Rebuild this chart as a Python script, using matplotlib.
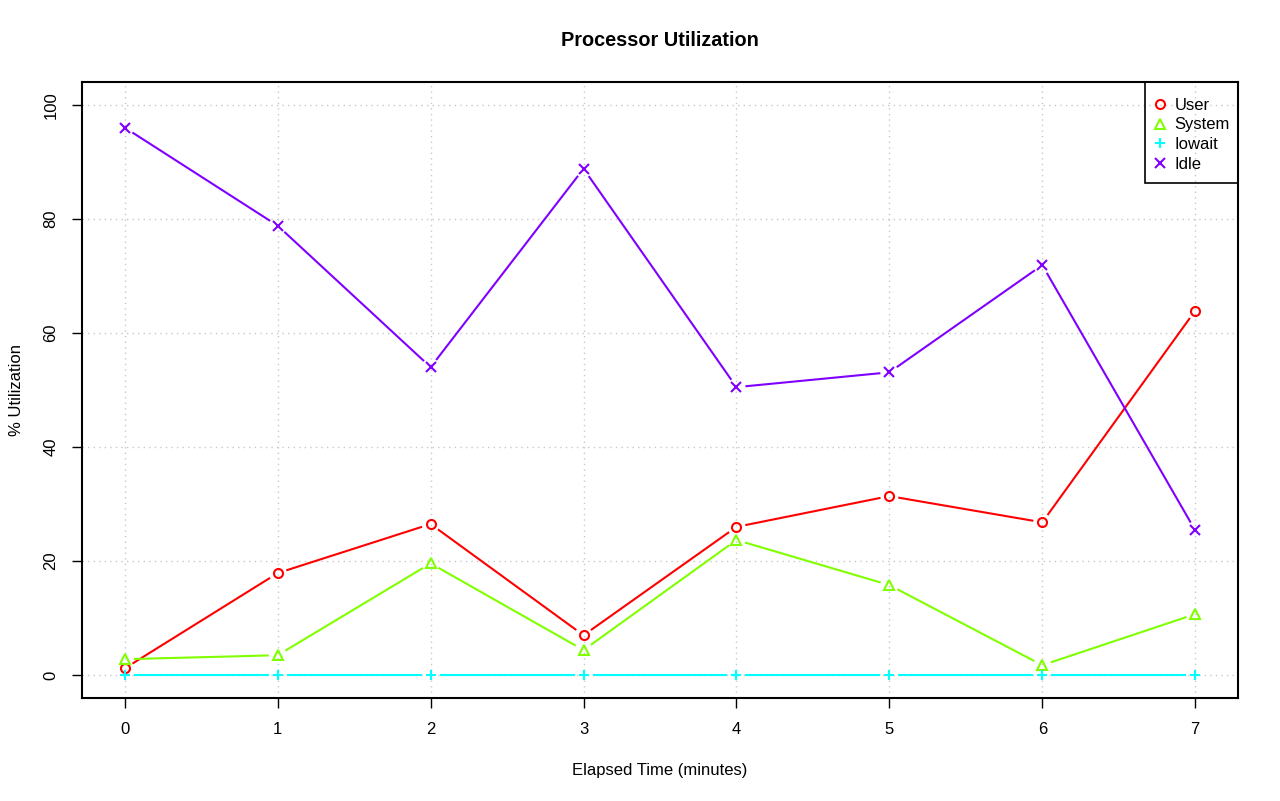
import numpy as np
import matplotlib
matplotlib.use("Agg")
import matplotlib.pyplot as plt
from matplotlib.patches import Rectangle

plt.rcParams['font.family'] = ['Liberation Sans', 'DejaVu Sans']

minutes = [0, 1, 2, 3, 4, 5, 6, 7]
user = [1.2, 17.9, 26.5, 7.0, 26.0, 31.4, 26.8, 63.9]
system = [2.8, 3.5, 19.6, 4.4, 23.7, 15.8, 1.75, 10.7]
iowait = [0, 0, 0, 0, 0, 0, 0, 0]
idle = [96.0, 78.8, 54.0, 88.8, 50.5, 53.1, 71.9, 25.4]
series_names = ["User", "System", "Iowait", "Idle"]
series_colors = ["#FF0000", "#80FF00", "#00FFFF", "#8000FF"]
series_markers = ["o", "^", "+", "x"]
x_ticks = [0, 1, 2, 3, 4, 5, 6, 7]
y_ticks = [0, 20, 40, 60, 80, 100]

fig = plt.figure(figsize=(12.8, 8.01), dpi=100)
ax = fig.add_axes([82/1280, 103/801, (1238-82)/1280, (698-82)/801])
ax.set_xlim(-0.28, 7.28)
ax.set_ylim(-4, 104)

for y in y_ticks:
    ax.axhline(y, color="#C8C8C8", lw=1, ls=(0, (1, 3)), zorder=1)
for x in x_ticks:
    ax.axvline(x, color="#C8C8C8", lw=1, ls=(0, (1, 3)), zorder=1)

fig.canvas.draw()
trans = ax.transData
inv = trans.inverted()
gap = 9.0  # pixels

for vals, name, col, mk in zip([user, system, iowait, idle], series_names, series_colors, series_markers):
    pts = trans.transform(np.column_stack([minutes, vals]))
    for i in range(len(pts) - 1):
        p, q = pts[i], pts[i + 1]
        d = q - p
        L = np.hypot(*d)
        if L <= 2 * gap:
            continue
        u = d / L
        a = inv.transform(p + u * gap)
        b = inv.transform(q - u * gap)
        ax.plot([a[0], b[0]], [a[1], b[1]], color=col, lw=1.5, zorder=2, solid_capstyle='butt')
    if mk in ("+", "x"):
        ax.plot(minutes, vals, ls="none", marker=mk, ms=6.5, mew=1.5, color=col, zorder=3, label=name)
    else:
        ax.plot(minutes, vals, ls="none", marker=mk, ms=6.5, mew=1.5, mfc="none", mec=col, zorder=3, label=name)

ax.set_xticks(x_ticks)
ax.set_yticks(y_ticks)
ax.tick_params(direction="out", length=7, width=1, labelsize=12, pad=10)
for lab in ax.get_yticklabels():
    lab.set_rotation(90)
    lab.set_va("center")
for s in ax.spines.values():
    s.set_linewidth(1.5)

ax.set_xlabel("Elapsed Time (minutes)", fontsize=12, labelpad=19)
ax.set_ylabel("% Utilization", fontsize=12, labelpad=14)
ax.set_title("Processor Utilization", fontsize=14.3, fontweight="bold", pad=26)

# legend box frame (transparent, like R's legend with grid showing through)
ax.add_patch(Rectangle((0.9196, 1 - 0.164), 0.0804, 0.164, transform=ax.transAxes,
                       facecolor="none", edgecolor="black", lw=1.2, zorder=4))
leg = ax.legend(loc="upper right", bbox_to_anchor=(0.9931, 0.9748), fontsize=12,
                frameon=False, borderaxespad=0, handlelength=0.8, handletextpad=0.5,
                labelspacing=0.29, borderpad=0)
leg.set_zorder(5)

fig.savefig("out.png", dpi=100)
